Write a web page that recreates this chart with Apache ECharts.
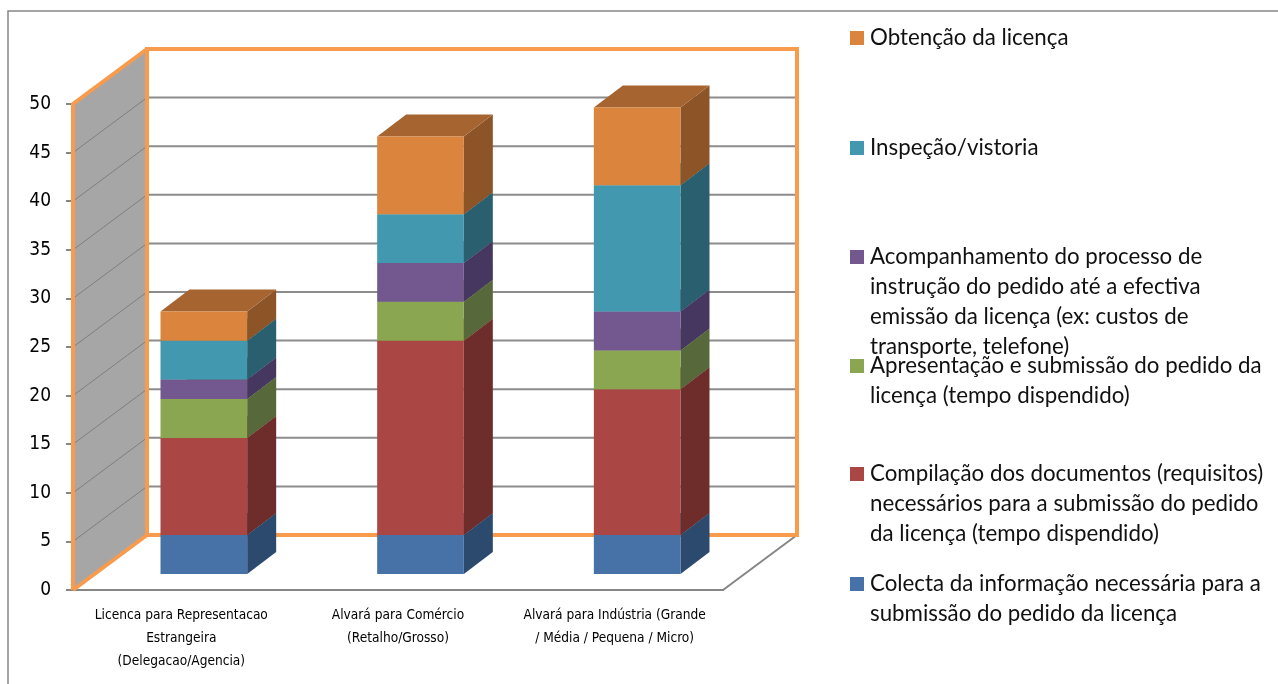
<!DOCTYPE html>
<html><head><meta charset="utf-8">
<style>html,body{margin:0;padding:0;background:#fff}#c{width:1278px;height:684px}</style>
<script src="https://cdn.jsdelivr.net/npm/echarts@6/dist/echarts.min.js"></script>
</head><body><div id="c"></div>
<script>
const categories = ['Licenca para Representacao\nEstrangeira\n(Delegacao/Agencia)', 'Alvará para Comércio\n(Retalho/Grosso)', 'Alvará para Indústria (Grande\n/ Média / Pequena / Micro)'];
const yTicks = [5,10,15,20,25,30,35,40,45];
const colecta = [4,4,4];
const compilacao = [10,20,15];
const apresentacao = [4,4,4];
const acompanhamento = [2,4,4];
const inspecao = [4,5,13];
const obtencao = [3,8,8];
const names = [
 'Colecta da informação necessária para a\nsubmissão do pedido da licença',
 'Compilação dos documentos (requisitos)\nnecessários para a submissão do pedido\nda licença (tempo dispendido)',
 'Apresentação e submissão do pedido da\nlicença (tempo dispendido)',
 'Acompanhamento do processo de\ninstrução do pedido até a efectiva\nemissão da licença (ex: custos de\ntransporte, telefone)',
 'Inspeção/vistoria',
 'Obtenção da licença'
];
const values = [colecta, compilacao, apresentacao, acompanhamento, inspecao, obtencao];
const front = ['#4672A8','#AA4643','#8BA650','#72588F','#4198AF','#DB843D'];
const side  = ['#2C4A6E','#6E2C2A','#57693A','#463760','#295F6F','#8C5427'];
const top_  = ['#375C88','#8A3835','#70863F','#5C4774','#347C8E','#A66530'];
const legendLineY = [584,474,366,257,148,38];

const WALL = {dx:74, dy:-55};
const BAR = {shiftX:22.5, shiftY:-16, dx:29, dy:-22, ratio:0.4};
const ORANGE = '#F99B4D', GRAY = '#868686';
const LH = 30;
const NARROW = '"DejaVu Sans Condensed",sans-serif';

function wallFill(params, api){
  const cs = params.coordSys, x = cs.x;
  const y0 = api.coord([0,0])[1], y50 = api.coord([0,50])[1];
  return {type:'polygon', shape:{points:[[x,y0],[x,y50],[x+WALL.dx,y50+WALL.dy],[x+WALL.dx,y0+WALL.dy]]}, style:{fill:'#A6A6A6'}};
}
function gridLine(params, api){
  const cs = params.coordSys, x = cs.x, y = api.coord([0,api.value(1)])[1];
  return {type:'group', children:[
    {type:'line', shape:{x1:x,y1:y,x2:x+WALL.dx,y2:y+WALL.dy}, style:{stroke:'#7F7F7F',lineWidth:1}},
    {type:'line', shape:{x1:x+WALL.dx,y1:y+WALL.dy,x2:x+cs.width+WALL.dx,y2:y+WALL.dy}, style:{stroke:'#8C8C8C',lineWidth:2}}
  ]};
}
function frame(params, api){
  const cs = params.coordSys, x = cs.x, w = cs.width;
  const y0 = api.coord([0,0])[1], y50 = api.coord([0,50])[1];
  const bx = x+WALL.dx, by0 = y0+WALL.dy, by50 = y50+WALL.dy;
  return {type:'group', children:[
    {type:'line', shape:{x1:x+w,y1:y0,x2:x+w+WALL.dx,y2:by0}, style:{stroke:GRAY,lineWidth:2}},
    {type:'polyline', shape:{points:[[bx,by0],[bx+w,by0],[bx+w,by50],[bx,by50],[bx,by0]]}, style:{stroke:ORANGE,lineWidth:4,fill:null}},
    {type:'polyline', shape:{points:[[x,y0],[x,y50],[bx,by50]]}, style:{stroke:ORANGE,lineWidth:4,fill:null}},
    {type:'line', shape:{x1:x,y1:y0,x2:bx,y2:by0}, style:{stroke:ORANGE,lineWidth:4}}
  ]};
}
function barItem(s){
  return function(params, api){
    const i = api.value(0);
    const a = api.coord([i, api.value(1)]), b = api.coord([i, api.value(2)]);
    const w = api.size([1,0])[0]*BAR.ratio;
    const l = a[0]-w/2+BAR.shiftX, r = l+w, yb = a[1]+BAR.shiftY, yt = b[1]+BAR.shiftY;
    const d = BAR.dx, e = BAR.dy;
    return {type:'group', children:[
      {type:'polygon', shape:{points:[[r,yb],[r+d,yb+e],[r+d,yt+e],[r,yt]]}, style:{fill:side[s]}},
      {type:'polygon', shape:{points:[[l,yt],[l+d,yt+e],[r+d,yt+e],[r,yt]]}, style:{fill:top_[s]}},
      {type:'rect', shape:{x:l,y:yt,width:w,height:yb-yt}, style:{fill:front[s]}}
    ]};
  };
}
const totals = [0,0,0];
const barSeries = values.map((arr,s)=>{
  const data = arr.map((v,i)=>{const lo=totals[i]; totals[i]+=v; return [i,lo,totals[i]];});
  return {type:'custom', name:names[s], coordinateSystem:'cartesian2d', clip:false, z:5,
    itemStyle:{color:front[s]}, renderItem:barItem(s), encode:{x:0,y:[1,2]}, data, silent:true};
});
const legends = names.map((n,s)=>{
  const lines = n.split('\n').length;
  return {show:true, data:[n], left:850, top:legendLineY[s]-(lines-1)*LH-LH/2, orient:'vertical', padding:0,
    itemWidth:14, itemHeight:14, itemGap:0, icon:'rect', selectedMode:false,
    formatter:(nm)=>'\n'.repeat(lines-1)+nm,
    textStyle:{fontFamily:'Lato, "Open Sans", sans-serif', fontSize:22.3, color:'#111', lineHeight:LH, padding:[0,0,0,1]}};
});
const chart = echarts.init(document.getElementById('c'),null,{renderer:'canvas'});
chart.setOption({
  animation:false, backgroundColor:'#fff',
  grid:{left:73, top:104, width:650, height:486, containLabel:false},
  legend:legends,
  xAxis:{type:'category', data:categories, boundaryGap:true,
    axisLine:{lineStyle:{color:GRAY,width:2}}, axisTick:{alignWithLabel:false,length:6,lineStyle:{color:GRAY,width:2}},
    axisLabel:{interval:0, margin:14, color:'#000', fontFamily:NARROW, fontSize:13.6, lineHeight:23}},
  yAxis:{type:'value', min:0, max:50, interval:5, splitLine:{show:false},
    axisLine:{show:false}, axisTick:{show:true,length:7,lineStyle:{color:GRAY,width:2}},
    axisLabel:{margin:22, color:'#000', fontFamily:NARROW, fontSize:19, padding:[6,0,0,0]}},
  graphic:[{type:'polyline', silent:true, shape:{points:[[8,684],[8,11],[1278,11]]}, style:{stroke:GRAY,lineWidth:1.5,fill:null}}],
  series:[
    {type:'custom', name:'wall', coordinateSystem:'cartesian2d', clip:false, z:1, silent:true, renderItem:wallFill, data:[[0,0]]},
    {type:'custom', name:'grid', coordinateSystem:'cartesian2d', clip:false, z:2, silent:true, renderItem:gridLine, encode:{x:0,y:1}, data:yTicks.map(v=>[0,v])},
    {type:'custom', name:'frame', coordinateSystem:'cartesian2d', clip:false, z:3, silent:true, renderItem:frame, data:[[0,0]]}
  ].concat(barSeries)
});
</script></body></html>
